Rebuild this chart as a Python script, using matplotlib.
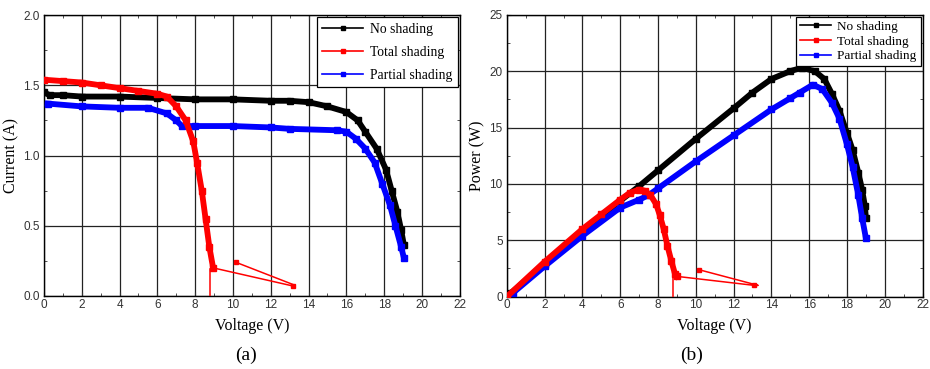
import matplotlib.pyplot as plt
from matplotlib.lines import Line2D
from matplotlib.ticker import MultipleLocator

# ---- data ----
# (a) I-V curves
iv_none_v = [0.0, 0.3, 1.0, 2.0, 4.0, 6.0, 8.0, 10.0, 12.0, 13.0, 14.0, 15.0, 16.0,
             16.6, 17.0, 17.6, 18.1, 18.4, 18.7, 18.9, 19.05]
iv_none_i = [1.45, 1.43, 1.43, 1.42, 1.42, 1.41, 1.40, 1.40, 1.39, 1.39, 1.38, 1.35, 1.31,
             1.25, 1.17, 1.05, 0.90, 0.75, 0.60, 0.47, 0.36]

iv_total_v = [0.0, 1.0, 2.0, 3.0, 4.0, 5.0, 6.0, 6.5, 7.0, 7.5, 7.9, 8.1, 8.35, 8.55,
              8.75, 8.95, 13.2, 13.3, 10.15]
iv_total_i = [1.54, 1.53, 1.52, 1.50, 1.48, 1.46, 1.44, 1.42, 1.35, 1.25, 1.10, 0.95,
              0.75, 0.55, 0.35, 0.20, 0.07, 0.075, 0.24]
iv_drop_v = [8.78, 8.78]
iv_drop_i = [0.19, 0.0]

iv_partial_v = [0.2, 2.0, 4.0, 5.5, 6.5, 7.0, 7.3, 8.0, 10.0, 12.0, 13.0, 15.5, 16.0,
                16.5, 17.0, 17.5, 17.9, 18.3, 18.6, 18.9, 19.05]
iv_partial_i = [1.37, 1.35, 1.34, 1.34, 1.30, 1.25, 1.21, 1.21, 1.21, 1.20, 1.19, 1.18,
                1.17, 1.12, 1.05, 0.95, 0.80, 0.65, 0.50, 0.35, 0.27]

# (b) P-V curves
pv_none_v = [0.0, 0.2, 2.0, 4.0, 6.0, 7.0, 8.0, 10.0, 12.0, 13.0, 14.0, 15.0, 15.6,
             16.3, 16.8, 17.2, 17.6, 18.0, 18.3, 18.6, 18.8, 18.95, 19.0]
pv_none_p = [0.0, 0.3, 2.9, 5.7, 8.5, 9.8, 11.2, 14.0, 16.7, 18.1, 19.3, 20.0, 20.3,
             20.0, 19.3, 18.0, 16.5, 14.5, 13.0, 11.0, 9.5, 8.0, 7.0]

pv_total_v = [0.0, 2.0, 4.0, 5.0, 6.0, 6.5, 7.0, 7.3, 7.6, 7.9, 8.1, 8.3, 8.5, 8.7,
              8.9, 9.0, 13.1, 13.3, 10.15]
pv_total_p = [0.0, 3.1, 6.0, 7.3, 8.6, 9.2, 9.5, 9.4, 9.0, 8.2, 7.2, 6.0, 4.5, 3.2,
              2.0, 1.8, 1.0, 1.0, 2.4]
pv_drop_v = [8.78, 8.78]
pv_drop_p = [1.8, 0.0]

pv_partial_v = [0.3, 2.0, 4.0, 6.0, 7.0, 7.5, 8.0, 10.0, 12.0, 14.0, 15.0, 15.5, 16.2,
                16.7, 17.2, 17.6, 18.0, 18.3, 18.6, 18.8, 19.0]
pv_partial_p = [0.3, 2.7, 5.4, 7.9, 8.6, 9.0, 9.6, 12.0, 14.3, 16.6, 17.6, 18.1, 18.8,
                18.4, 17.2, 15.8, 13.5, 11.5, 9.0, 7.0, 5.2]

labels = ["No shading", "Total shading", "Partial shading"]
colors = ["black", "red", "blue"]

SERIF = "Liberation Serif"
SANS = "Liberation Sans"


def style_axes(ax, ymax, ystep, ylabel):
    ax.set_xlim(0, 22)
    ax.set_ylim(0, ymax)
    ax.xaxis.set_major_locator(MultipleLocator(2))
    ax.yaxis.set_major_locator(MultipleLocator(ystep))
    ax.xaxis.set_minor_locator(MultipleLocator(1))
    ax.yaxis.set_minor_locator(MultipleLocator(ystep / 2))
    ax.grid(True, which="major", color="#222222", linewidth=0.9)
    ax.tick_params(which="both", direction="in", top=True, right=True,
                   labelsize=8.5, colors="#333333")
    ax.tick_params(axis="x", pad=2)
    ax.tick_params(axis="y", pad=3)
    ax.tick_params(which="major", length=3)
    ax.tick_params(which="minor", length=2)
    for lab in ax.get_xticklabels() + ax.get_yticklabels():
        lab.set_fontfamily(SANS)
    for s in ax.spines.values():
        s.set_linewidth(1.0)
    ax.set_xlabel("Voltage (V)", fontfamily=SERIF, fontsize=11.5, labelpad=5)
    ax.set_ylabel(ylabel, fontfamily=SERIF, fontsize=11.5, labelpad=3)


def draw_curve(ax, x, y, color):
    ax.plot(x, y, color=color, linewidth=4.2, marker="s", markersize=4,
            solid_joinstyle="round", zorder=3)


def draw_tail(ax, x, y):
    ax.plot(x, y, color="red", linewidth=1.1, zorder=3)


fig = plt.figure(figsize=(9.3, 3.69), dpi=100)
ax1 = fig.add_axes([0.0473, 0.198, 0.447, 0.761])
ax2 = fig.add_axes([0.545, 0.196, 0.447, 0.764])

# (a)
draw_curve(ax1, iv_none_v, iv_none_i, "black")
draw_curve(ax1, iv_partial_v, iv_partial_i, "blue")
draw_curve(ax1, iv_total_v[:16], iv_total_i[:16], "red")
draw_tail(ax1, iv_total_v[15:], iv_total_i[15:])
ax1.plot(iv_total_v[16:17] + iv_total_v[18:], iv_total_i[16:17] + iv_total_i[18:],
         color="red", linestyle="none", marker="s", markersize=3.5, zorder=3)
draw_tail(ax1, iv_drop_v, iv_drop_i)
style_axes(ax1, 2.0, 0.5, "Current (A)")

# (b)
draw_curve(ax2, pv_none_v, pv_none_p, "black")
draw_curve(ax2, pv_partial_v, pv_partial_p, "blue")
draw_curve(ax2, pv_total_v[:16], pv_total_p[:16], "red")
draw_tail(ax2, pv_total_v[15:], pv_total_p[15:])
ax2.plot(pv_total_v[16:17] + pv_total_v[18:], pv_total_p[16:17] + pv_total_p[18:],
         color="red", linestyle="none", marker="s", markersize=3.5, zorder=3)
draw_tail(ax2, pv_drop_v, pv_drop_p)
style_axes(ax2, 25, 5, "Power (W)")

handles = [Line2D([0], [0], color=c, linewidth=1.2, marker="s", markersize=3)
           for c in colors]
for ax, fs, sp, hl, bp in [(ax1, 9.8, 0.75, 3.0, 0.4), (ax2, 9.5, 0.18, 2.3, 0.3)]:
    leg = ax.legend(handles, labels, loc="upper right", bbox_to_anchor=(1.0, 1.0),
                    prop={"family": SERIF, "size": fs}, fancybox=False,
                    framealpha=1, edgecolor="black", borderaxespad=0.15,
                    labelspacing=sp, handlelength=hl, handletextpad=0.5,
                    borderpad=bp)
    leg.get_frame().set_linewidth(0.9)
    leg.set_zorder(5)

fig.text(0.265, 0.038, "(a)", ha="center", va="center", fontfamily=SERIF, fontsize=14)
fig.text(0.744, 0.038, "(b)", ha="center", va="center", fontfamily=SERIF, fontsize=14)

fig.savefig("out.png", dpi=100)
